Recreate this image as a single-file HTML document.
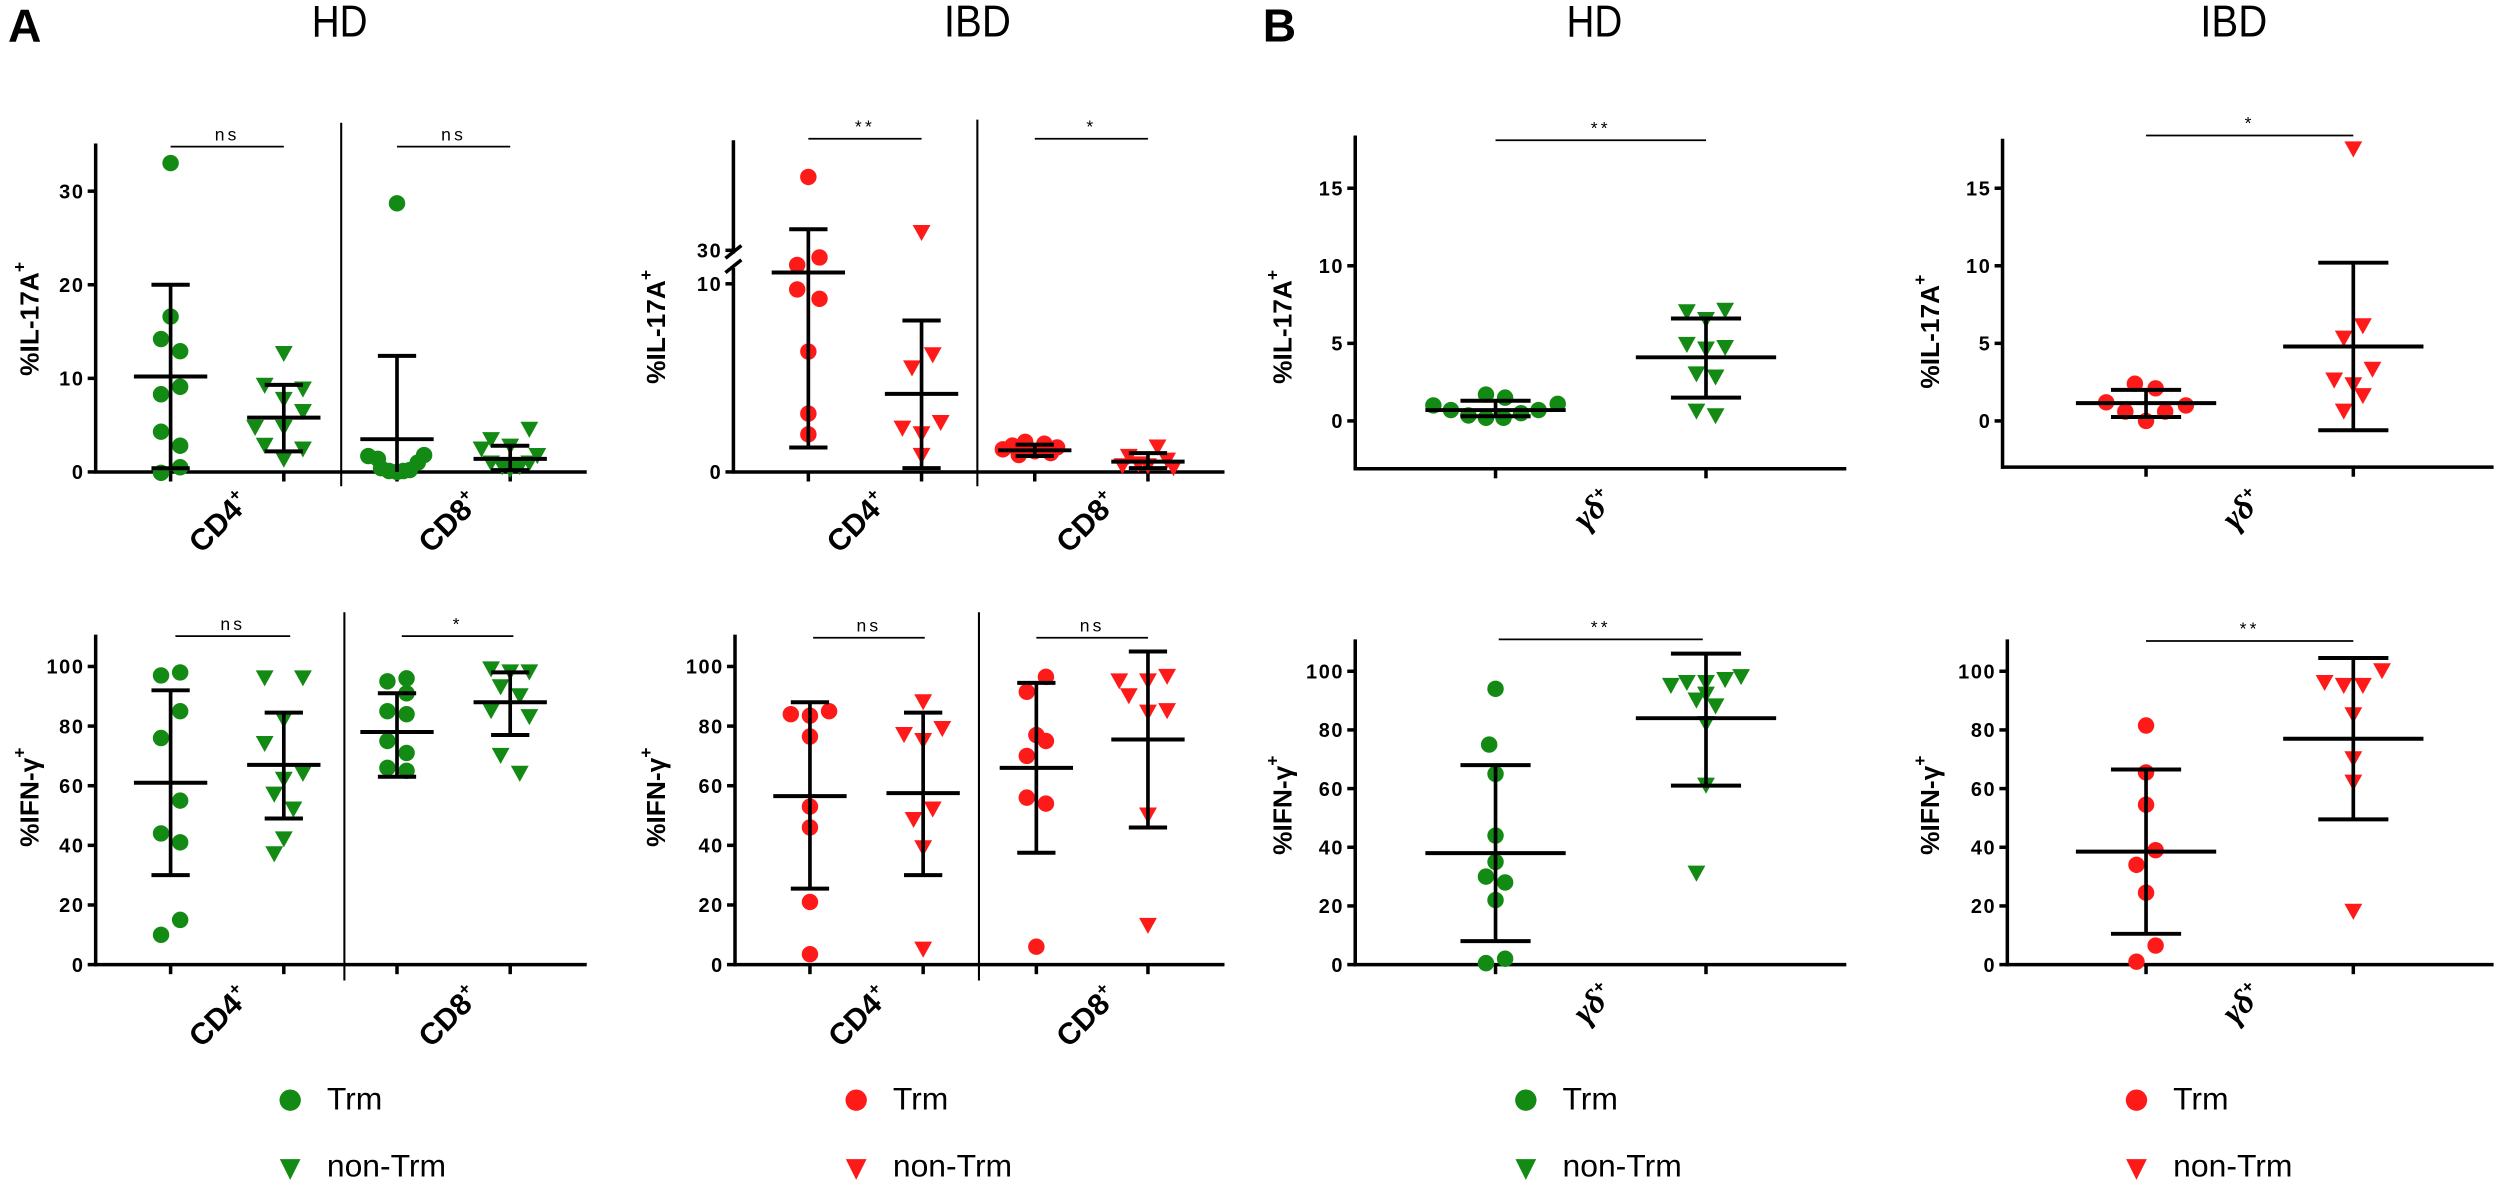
<!DOCTYPE html>
<html><head><meta charset="utf-8"><style>html,body{margin:0;padding:0;background:#fff}svg{display:block}</style></head>
<body>
<svg id="s" xmlns="http://www.w3.org/2000/svg" width="2500" height="1184" viewBox="0 0 1568 742.6" preserveAspectRatio="none" font-family="'Liberation Sans', sans-serif"></svg>
<script>
var G='#138a13',R='#ff1a1a',out=[];
function L(x1,y1,x2,y2,w){out.push('<line x1="'+x1+'" y1="'+y1+'" x2="'+x2+'" y2="'+y2+'" stroke="#000" stroke-width="'+(w||2.2)+'"/>');}
function T(x,y,t,o){out.push('<text x="'+x+'" y="'+y+'" '+(o||'')+'>'+t+'</text>');}
function mark(x,y,c,sh,s){s=s||1.12;
 if(sh=='c')out.push('<ellipse cx="'+x+'" cy="'+y+'" rx="'+(4.6*s)+'" ry="'+(4.6*s)+'" fill="'+c+'"/>');
 else{var w=5*s,h=4.5*s;out.push('<polygon points="'+(x-w)+','+(y-h)+' '+(x+w)+','+(y-h)+' '+x+','+(y+h)+'" fill="'+c+'"/>');}}
function P(o){
 var ym=o.ym;
 if(o.brk){L(o.ax,o.top,o.ax,o.brk[0]);L(o.ax,o.brk[1],o.ax,o.xa);
   L(o.ax-5,o.brk[0]+3,o.ax+5,o.brk[0]-5,2.2);L(o.ax-5,o.brk[1]+3,o.ax+5,o.brk[1]-5,2.2);}
 else L(o.ax,o.top,o.ax,o.xa+1);
 L(o.ax-1,o.xa,o.xe,o.xa);
 o.ticks.forEach(function(t){var y=t[2]!==undefined?t[2]:ym(t[0]);L(o.ax-5,y,o.ax,y,2.2);
   T(o.ax-7,y+4.5,t[1],'font-size="12.5" font-weight="bold" text-anchor="end" letter-spacing="1"');});
 if(o.div)L(o.div[0],o.div[1],o.div[0],o.div[2],1.3);
 o.groups.forEach(function(g){
   L(g.x,o.xa,g.x,o.xa+6,2.2);
   g.pts.forEach(function(p){mark(g.x+p[1],ym(p[0]),g.c,g.sh);});
   var lo=g.lo,hi=g.hi;
   L(g.x,ym(lo===null?0:lo),g.x,ym(hi),2.3);
   L(g.x-g.mw,ym(g.m),g.x+g.mw,ym(g.m),2.5);
   L(g.x-g.cw,ym(hi),g.x+g.cw,ym(hi),2.5);
   if(lo!==null)L(g.x-g.cw,ym(lo),g.x+g.cw,ym(lo),2.5);
 });
 o.sig.forEach(function(s){L(s[0],s[2],s[1],s[2],1.1);T((s[0]+s[1])/2,s[2]-4,s[3],'font-size="11" text-anchor="middle" letter-spacing="2"');});
 T(o.yl[0],o.yl[1],o.ylab,'font-size="16.5" font-weight="bold" text-anchor="middle" transform="rotate(-90 '+o.yl[0]+' '+o.yl[1]+')"');
 o.xl.forEach(function(x){T(x[1],x[2],x[0],'font-size="'+(x[3]||19)+'" font-weight="bold" text-anchor="middle" transform="rotate(-45 '+x[1]+' '+x[2]+')"');});
}
var sup=function(t){return '<tspan dy="-8" font-size="11">'+t+'</tspan>';};
var IL='%IL-17A'+sup('+'),IF='%IFN-γ'+sup('+');
var CD4='CD4'+sup('+'),CD8='CD8'+sup('+');
var GD='<tspan font-family="Liberation Serif, serif" font-style="italic">γδ</tspan>'+sup('+');
function A(gx,c,data){return data.map(function(d,i){return {x:gx[i],c:c,sh:i%2?'t':'c',pts:d[0],m:d[1],lo:d[2],hi:d[3],mw:23,cw:12};});}
function B(gx,c,data){return data.map(function(d,i){return {x:gx[i],c:c,sh:i%2?'t':'c',pts:d[0],m:d[1],lo:d[2],hi:d[3],mw:44,cw:22};});}
var yTop=function(v){return 296-v*5.87;};
var yBot=function(v){return 605-v*1.87;};
var yBotB=function(v){return 605-v*1.84;};
var yB=function(v){return 264-v*9.73;};
var botT=[[0,'0'],[20,'20'],[40,'40'],[60,'60'],[80,'80'],[100,'100']];
P({ax:60,top:90,xa:296,xe:368,ym:yTop,ticks:[[0,'0'],[10,'10'],[20,'20'],[30,'30']],div:[214,77,305],
 groups:A([107,178,249,320],G,[
  [[[33,0],[16.6,0],[14.2,-6],[12.9,6],[9.1,6],[8.3,-6],[4.3,-6],[2.8,6],[0.5,6],[-0.1,-6]],10.2,0.4,20],
  [[[12.6,0],[9.2,-12],[8.8,12],[7.7,0],[6.4,12],[4.7,-18],[4.7,0],[2.8,-12],[2.4,12],[1.3,0]],5.8,2.2,9.3],
  [[[28.7,0],[1.7,-18],[1.4,-12],[0.4,-10],[0.1,-5],[0,0],[0.1,4],[0.2,8],[1,13],[1.8,17]],3.5,null,12.4],
  [[[4.5,12],[3.4,-12],[2.7,0],[2.4,-18],[1.7,17],[0.9,-12],[0.9,12],[0.5,-5],[0.5,6],[0.2,0]],1.4,0.2,2.8]]),
 sig:[[107,178,92,'ns'],[249,320,92,'ns']],yl:[24,200],ylab:IL,xl:[[CD4,142,332],[CD8,286,332]]});
var yI=function(v){return v>=25?157-(v-30)*9.2:296-v*11.8;};
P({ax:460,top:88,xa:296,xe:768,ym:yI,brk:[159,168],ticks:[[0,'0'],[10,'10'],[30,'30']],div:[613,75,305],
 groups:A([507,578,649,720],R,[
  [[[35,0],[11.4,7],[11,-7],[9.7,-7],[9.2,7],[6.4,0],[3.1,0],[2.0,0]],10.6,1.3,12.9],
  [[[12.7,0],[6.2,7],[5.5,-6],[2.6,12],[2.3,-12],[2.0,0],[0.85,0]],4.15,0.2,8.05],
  [[[1.6,-6],[1.5,6],[1.4,-14],[1.3,14],[1.2,-20],[1.1,0],[1.0,10],[0.9,-10]],1.15,0.85,1.45],
  [[[1.3,6],[0.8,-12],[0.6,12],[0.4,-6],[0.3,0],[0.3,-16],[0.2,16]],0.55,0.2,1.0]]),
 sig:[[507,578,87,'**'],[649,720,87,'*']],yl:[417,205],ylab:IL,xl:[[CD4,542,332],[CD8,686,332]]});
P({ax:60,top:398,xa:605,xe:368,ym:yBot,ticks:botT,div:[216,384,615],
 groups:A([107,178,249,320],G,[
  [[[98,6],[97,-6],[85,6],[76,-6],[55,6],[44,-6],[41,6],[15,6],[10,-6]],61,30,92],
  [[[96,-12],[96,12],[82,0],[74,-12],[64,12],[62,0],[57,-6],[52,6],[42,0],[37,-6]],67,49,84.5],
  [[[96,6],[95,-6],[91,6],[85,-6],[84,6],[75,-6],[71,6],[66,-6],[65,6]],78,63,91],
  [[[99,-12],[98,0],[98,12],[93,-6],[90,6],[85,-12],[83,12],[70,-6],[64,6]],88,77,98]]),
 sig:[[110,182,399,'ns'],[252,322,399,'*']],yl:[24,500],ylab:IF,xl:[[CD4,142,642],[CD8,286,642]]});
P({ax:461,top:398,xa:605,xe:768,ym:yBot,ticks:botT,div:[614,384,615],
 groups:A([508,579,650,720],R,[
  [[[84,-12],[83.5,0],[85,12],[76.5,0],[53,0],[46,0],[21,0],[3.5,0]],56.5,25.5,88],
  [[[88,0],[77,-12],[75,0],[79,12],[52,6],[48.5,-6],[39,0],[5,0]],57.5,30,84.5],
  [[[96.5,6],[91.5,-6],[77,0],[75,6],[70,-6],[56,-6],[54,6],[6,0]],66,37.5,94.5],
  [[[95,-18],[95,0],[96.5,12],[90,-12],[84.5,0],[85,12],[50,0],[13,0]],75.5,46,105]]),
 sig:[[510,580,400,'ns'],[650,720,400,'ns']],yl:[417,500],ylab:IF,xl:[[CD4,543,642],[CD8,686,642]]});
P({ax:850,top:85,xa:294,xe:1158,ym:yB,ticks:[[0,'0'],[5,'5'],[10,'10'],[15,'15']],
 groups:B([938,1070],G,[
  [[[1.0,-39],[0.7,-28],[0.35,-17],[1.7,-6],[0.2,-6],[1.5,6],[0.2,5],[0.5,16],[0.7,27],[1.1,39]],0.7,0.3,1.3],
  [[[7.0,-12],[7.1,12],[6.5,0],[4.9,-12],[4.6,0],[4.7,12],[3.0,-6],[2.8,6],[0.6,-6],[0.3,6]],4.1,1.5,6.6]]),
 sig:[[938,1070,88,'**']],yl:[810,205],ylab:IL,xl:[[GD,1004,324,21]]});
P({ax:1256,top:87,xa:293,xe:1564,ym:yB,ticks:[[0,'0'],[5,'5'],[10,'10'],[15,'15']],
 groups:B([1346,1476],R,[
  [[[1.2,-25],[2.4,-7],[2.1,6],[1.0,25],[0.6,-13],[0.6,12],[0,0]],1.15,0.25,2.0],
  [[[17.5,0],[6.1,6],[5.3,-6],[3.3,12],[2.6,-12],[2.3,0],[1.6,6],[0.6,-6]],4.8,-0.6,10.2]]),
 sig:[[1346,1476,85,'*']],yl:[1216,208],ylab:IL,xl:[[GD,1411,324,21]]});
P({ax:850,top:401,xa:605,xe:1158,ym:yBotB,ticks:botT,
 groups:B([938,1070],G,[
  [[[94,0],[75,-4],[65,0],[44,0],[35,0],[30,-6],[28,6],[22,0],[2,6],[0.5,-6]],38,8,68],
  [[[98,22],[97,12],[96,-12],[96,0],[95,-22],[92,0],[90,-6],[88,6],[82,0],[61,0],[31,-6]],84,61,106]]),
 sig:[[940,1068,401,'**']],yl:[810,505],ylab:IF,xl:[[GD,1004,634,21]]});
P({ax:1259,top:401,xa:605,xe:1564,ym:yBotB,ticks:botT,
 groups:B([1346,1476],R,[
  [[[81.5,0],[65.5,0],[54.5,0],[39,6],[34,-6],[24.5,0],[6.5,6],[1,-6]],38.5,10.5,66.5],
  [[[100,18],[96,-18],[95,-6],[95,6],[85,0],[70,0],[62,0],[18,0]],77,49.5,104.5]]),
 sig:[[1346,1476,402,'**']],yl:[1216,505],ylab:IF,xl:[[GD,1411,634,21]]});
T(5,26,'A','font-size="29" font-weight="bold"');
T(792,26,'B','font-size="29" font-weight="bold"');
T(213,23,'HD','font-size="28" text-anchor="middle" textLength="35" lengthAdjust="spacingAndGlyphs"');
T(613,23,'IBD','font-size="28" text-anchor="middle" textLength="42" lengthAdjust="spacingAndGlyphs"');
T(1000,23,'HD','font-size="28" text-anchor="middle" textLength="35" lengthAdjust="spacingAndGlyphs"');
T(1401,23,'IBD','font-size="28" text-anchor="middle" textLength="42" lengthAdjust="spacingAndGlyphs"');
[[182,G],[537,R],[957,G],[1340,R]].forEach(function(l){
 var x=l[0];out.push('<circle cx="'+x+'" cy="690" r="6.7" fill="'+l[1]+'"/>');
 out.push('<polygon points="'+(x-6.5)+',727 '+(x+6.5)+',727 '+x+',740" fill="'+l[1]+'"/>');
 T(x+23,696,'Trm','font-size="20"');T(x+23,738,'non-Trm','font-size="20"');});
document.getElementById('s').innerHTML=out.join('');
</script>
</body></html>
